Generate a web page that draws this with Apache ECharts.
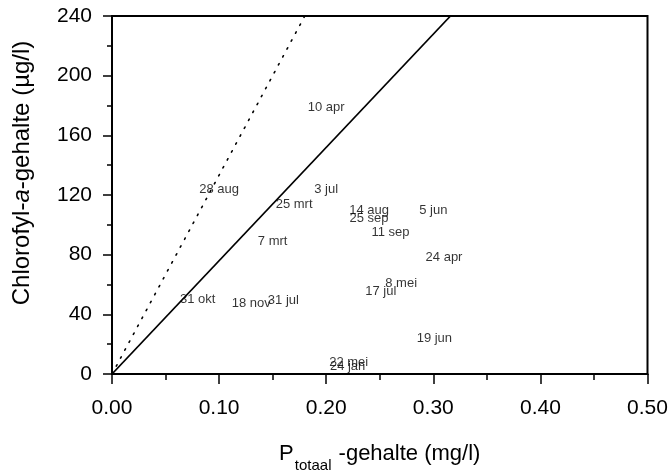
<!DOCTYPE html>
<html>
<head>
<meta charset="utf-8">
<script src="https://cdn.jsdelivr.net/npm/echarts@6/dist/echarts.min.js"></script>
<style>
html,body{margin:0;padding:0;background:#fff;}
#chart{width:670px;height:472px;}
</style>
</head>
<body>
<div id="chart"></div>
<script>
// Sample dates (labels of the points)
const dates = ['10 apr','28 aug','3 jul','25 mrt','7 mrt','31 okt','18 nov','31 jul','22 mei','24 jan','14 aug','25 sep','5 jun','11 sep','24 apr','8 mei','17 jul','19 jun'];
// P-totaal (mg/l)
const ptot = [0.200,0.100,0.200,0.170,0.150,0.080,0.130,0.160,0.221,0.220,0.240,0.240,0.300,0.260,0.310,0.270,0.251,0.301];
// Chlorofyl-a (µg/l)
const chla = [179,124,124,114,89,50,47.6,49,7.6,5,109.5,104.4,109.5,94.7,78.2,60.8,55.6,23.7];
// Reference lines (end points)
const solidX = [0, 0.316];
const solidY = [0, 240];
const dottedX = [0, 0.18];
const dottedY = [0, 240];
// Axis ticks
const xTicks = [0, 0.1, 0.2, 0.3, 0.4, 0.5];
const yTicks = [0, 40, 80, 120, 160, 200, 240];

const FONT = '"Liberation Sans", Arial, sans-serif';
const chart = echarts.init(document.getElementById('chart'), null, {renderer: 'canvas'});
const pts = ptot.map((x, i) => [x, chla[i]]);
const solid = solidX.map((x, i) => [x, solidY[i]]);
const dotted = dottedX.map((x, i) => [x, dottedY[i]]);

chart.setOption({
  animation: false,
  backgroundColor: '#fff',
  textStyle: {fontFamily: FONT, color: '#000'},
  grid: {left: 112, right: 22.5, top: 16, bottom: 98, show: true, borderColor: '#000', borderWidth: 2, backgroundColor: 'transparent', containLabel: false, outerBoundsMode: 'none'},
  xAxis: {
    type: 'value',
    min: xTicks[0], max: xTicks[xTicks.length - 1], interval: 0.1,
    axisLine: {show: true, onZero: false, lineStyle: {color: '#000', width: 2}},
    axisTick: {show: true, length: 10, lineStyle: {color: '#000', width: 1.5}},
    minorTick: {show: true, splitNumber: 2, length: 6, lineStyle: {color: '#000', width: 1.5}},
    splitLine: {show: false},
    axisLabel: {fontSize: 21, color: '#000', fontFamily: FONT, margin: 24, formatter: v => v.toFixed(2)},
    name: '{n|P}{s|totaal}{n| -gehalte (mg/l)}',
    nameLocation: 'middle',
    nameGap: 69,
    nameTextStyle: {
      rich: {
        n: {fontSize: 22, fontFamily: FONT, color: '#000', lineHeight: 30, verticalAlign: 'top'},
        s: {fontSize: 15, fontFamily: FONT, color: '#000', lineHeight: 10, verticalAlign: 'bottom', padding: [0, 1, 0, 1]}
      }
    }
  },
  yAxis: {
    type: 'value',
    min: yTicks[0], max: yTicks[yTicks.length - 1], interval: 40,
    axisLine: {show: true, onZero: false, lineStyle: {color: '#000', width: 2}},
    axisTick: {show: true, length: 9, lineStyle: {color: '#000', width: 1.5}},
    minorTick: {show: true, splitNumber: 2, length: 5, lineStyle: {color: '#000', width: 1.5}},
    splitLine: {show: false},
    axisLabel: {fontSize: 21, color: '#000', fontFamily: FONT, margin: 20},
    name: '{n|Chlorofyl-}{i|a}{n|-gehalte (µg/l)}',
    nameLocation: 'middle',
    nameRotate: 90,
    nameGap: 78,
    nameTextStyle: {
      padding: [0, 0, 0, 44],
      rich: {
        n: {fontSize: 24, fontFamily: FONT, color: '#000'},
        i: {fontSize: 24, fontFamily: FONT, color: '#000', fontStyle: 'italic'}
      }
    }
  },
  series: [
    {
      type: 'line', data: dotted, showSymbol: false, symbol: 'none', silent: true,
      lineStyle: {color: '#000', width: 1.6, type: [1.5, 7.5], cap: 'round'}
    },
    {
      type: 'line', data: solid, showSymbol: false, symbol: 'none', silent: true,
      lineStyle: {color: '#000', width: 1.8}
    },
    {
      type: 'scatter', data: pts, symbol: 'circle', symbolSize: 0.1,
      itemStyle: {color: 'rgba(0,0,0,0)'},
      label: {
        show: true, position: 'inside', color: '#000', fontSize: 13, fontFamily: FONT,
        formatter: p => dates[p.dataIndex]
      },
      z: 5
    }
  ]
});
</script>
</body>
</html>
